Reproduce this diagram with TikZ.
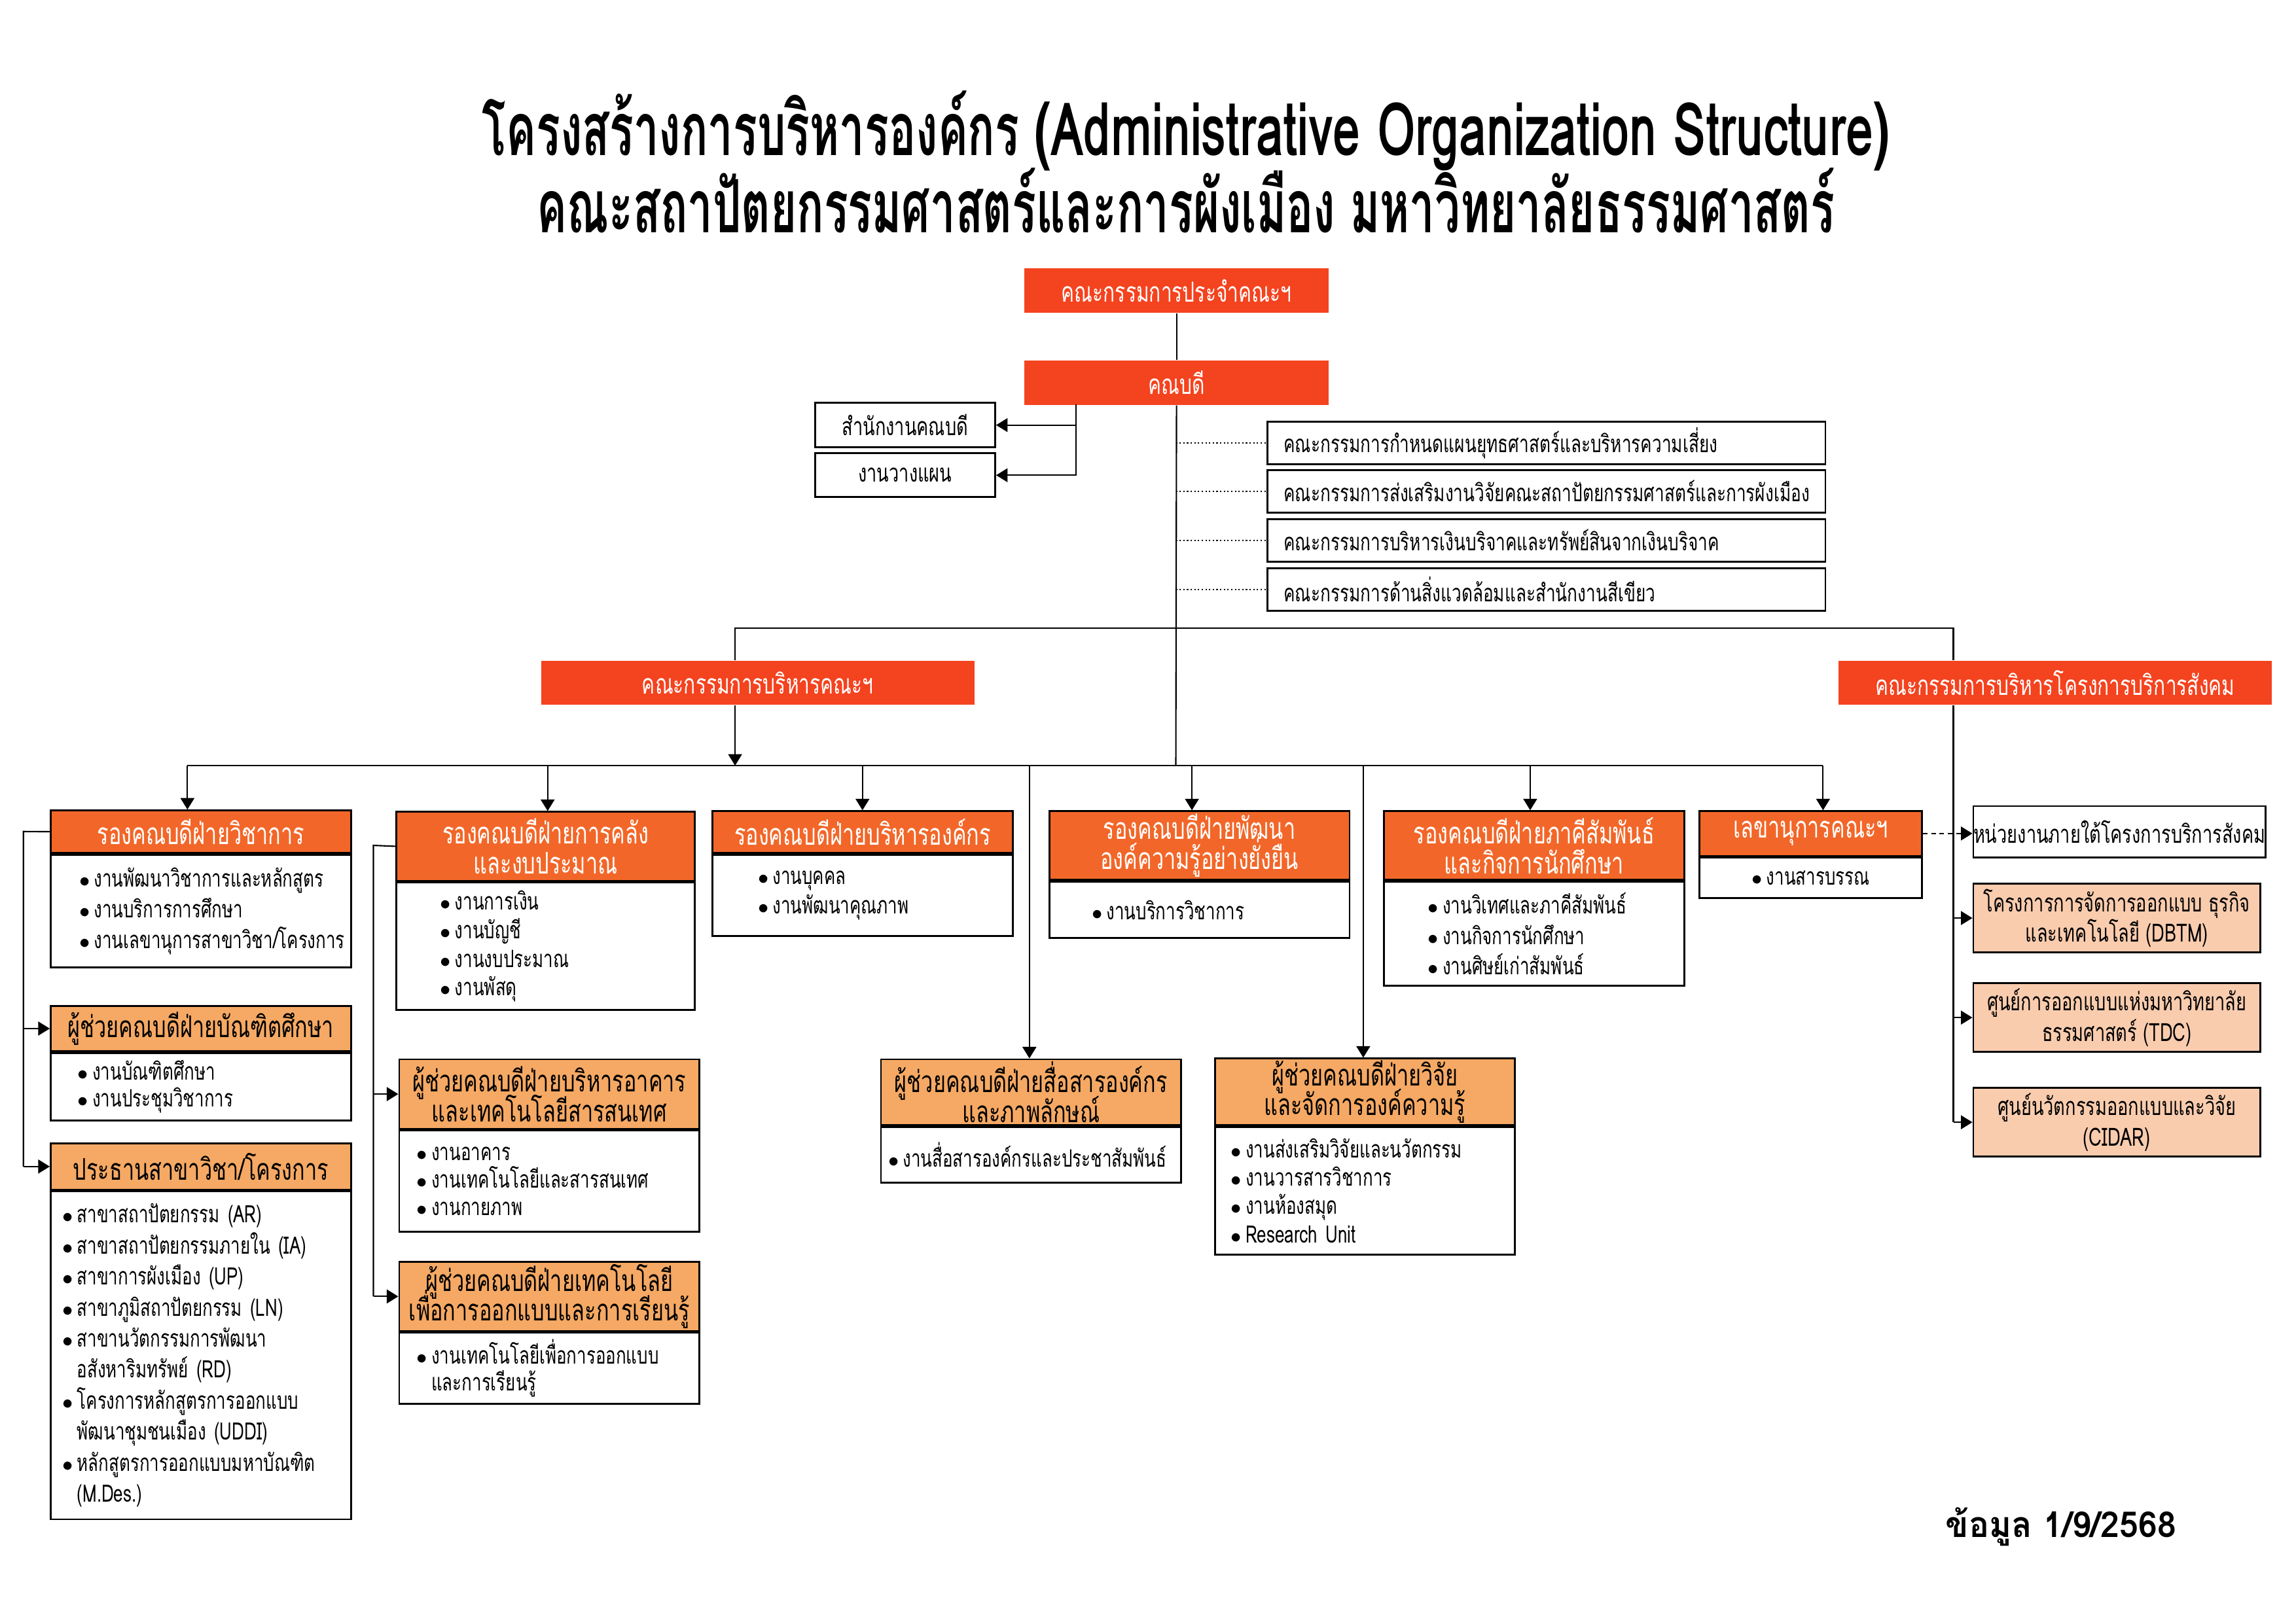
\documentclass[tikz,border=0pt]{standalone}
\usepackage{fontspec}
\newfontfamily\thaifont[Script=Thai,FakeStretch=0.71]{Loma}
\newfontfamily\titlefont[Script=Thai,FakeStretch=0.61]{Loma}
\newfontfamily\titlelatin[Script=Thai,FakeStretch=0.67]{Loma}
\newfontfamily\datefont[Script=Thai,FakeStretch=0.95]{Loma}
\usetikzlibrary{arrows.meta}

\definecolor{topred}{HTML}{F4431F}
\definecolor{vporange}{HTML}{F26729}
\definecolor{asstorange}{HTML}{F5A964}
\definecolor{unitpeach}{HTML}{F9CCAE}

\newdimen\px \px=0.022372cm
\newcommand{\itm}{\makebox[10\px][l]{\fontsize{9}{9}\selectfont$\bullet$}}
\newcommand{\cont}{\hspace*{10\px}}
\newcommand{\tightlines}{\lineskiplimit=-\maxdimen}

\begin{document}
\begin{tikzpicture}[x=0.022372cm, y=-0.022372cm, line width=0.6pt,
  >={Triangle[length=5pt,width=6pt]},
  titletext/.style={anchor=base, font=\titlefont\bfseries\fontsize{32}{36}\selectfont},
  redbox/.style={fill=topred, text=white, inner sep=0pt, align=center, anchor=north west,
    font=\thaifont\fontsize{12}{13}\selectfont},
  linebox/.style={draw, line width=0.8pt, fill=white, inner sep=0pt, align=center, anchor=north west,
    font=\thaifont\fontsize{10.9}{12}\selectfont\tightlines},
  cmbox/.style={linebox, align=left, inner xsep=11\px, text width=359\px, minimum height=29\px,
    font=\thaifont\fontsize{10.5}{12}\selectfont},
  vphead/.style={draw, line width=0.8pt, fill=vporange, text=white, inner sep=0pt, align=center,
    anchor=north west, font=\thaifont\fontsize{13}{13}\selectfont\tightlines},
  asshead/.style={vphead, fill=asstorange, text=black},
  listbox/.style={draw, line width=0.8pt, fill=white, inner ysep=0pt, align=left, anchor=north west,
    font=\thaifont\fontsize{10.4}{#1}\selectfont\tightlines},
  listbox/.default=13,
  unitbox/.style={linebox, fill=unitpeach, minimum width=196\px, minimum height=47\px,
    font=\thaifont\fontsize{10.9}{13.2}\selectfont\tightlines}
]
\useasboundingbox (0,0) rectangle (1568,1109);

% title
\node[titletext] (title1) at (810,106) {โครงสร้างการบริหารองค์กร {\titlelatin(Administrative Organization Structure)}};
\node[titletext] (title2) at (810,159) {คณะสถาปัตยกรรมศาสตร์และการผังเมือง มหาวิทยาลัยธรรมศาสตร์};

% board and dean
\node[redbox, minimum width=208\px, minimum height=30\px] (board) at (699,183) {คณะกรรมการประจำคณะฯ};
\node[redbox, minimum width=208\px, minimum height=30\px] (dean) at (699,246) {คณบดี};
\node[linebox, minimum width=123\px, minimum height=30.5\px] (office) at (556,274.5) {สำนักงานคณบดี};
\node[linebox, minimum width=123\px, minimum height=30\px] (plan) at (556,309) {งานวางแผน};

% committees
\node[cmbox] (cm1) at (865,287.5) {คณะกรรมการกำหนดแผนยุทธศาสตร์และบริหารความเสี่ยง};
\node[cmbox] (cm2) at (865,320.5) {คณะกรรมการส่งเสริมงานวิจัยคณะสถาปัตยกรรมศาสตร์และการผังเมือง};
\node[cmbox] (cm3) at (865,354) {คณะกรรมการบริหารเงินบริจาคและทรัพย์สินจากเงินบริจาค};
\node[cmbox] (cm4) at (865,387.5) {คณะกรรมการด้านสิ่งแวดล้อมและสำนักงานสีเขียว};

\node[redbox, minimum width=296\px, minimum height=30\px] (mgmt) at (369,451) {คณะกรรมการบริหารคณะฯ};
\node[redbox, minimum width=296\px, minimum height=30\px] (svc) at (1255,451) {คณะกรรมการบริหารโครงการบริการสังคม};

% column 1
\node[vphead, minimum width=205\px, minimum height=29\px] (acadH) at (34,553) {รองคณบดีฝ่ายวิชาการ};
\node[listbox=13.3, text width=166\px, inner xsep=19.5\px, minimum height=77\px] (acadB) at (acadH.south west)
  {\itm งานพัฒนาวิชาการและหลักสูตร\\ \itm งานบริการการศึกษา\\ \itm งานเลขานุการสาขาวิชา/โครงการ};
\node[asshead, minimum width=205\px, minimum height=31\px] (gradH) at (34,686.5) {ผู้ช่วยคณบดีฝ่ายบัณฑิตศึกษา};
\node[listbox=11.5, text width=168\px, inner xsep=18.5\px, minimum height=46\px] (gradB) at (gradH.south west)
  {\itm งานบัณฑิตศึกษา\\ \itm งานประชุมวิชาการ};
\node[asshead, minimum width=205\px, minimum height=31.5\px] (chairH) at (34,780.5) {ประธานสาขาวิชา/โครงการ};
\node[listbox=13.5, text width=189\px, inner xsep=8\px, minimum height=224\px] (chairB) at (chairH.south west)
  {\itm สาขาสถาปัตยกรรม (AR)\\ \itm สาขาสถาปัตยกรรมภายใน (IA)\\ \itm สาขาการผังเมือง (UP)\\
   \itm สาขาภูมิสถาปัตยกรรม (LN)\\ \itm สาขานวัตกรรมการพัฒนา\\ \cont อสังหาริมทรัพย์ (RD)\\
   \itm โครงการหลักสูตรการออกแบบ\\ \cont พัฒนาชุมชนเมือง (UDDI)\\
   \itm หลักสูตรการออกแบบมหาบัณฑิต\\ \cont (M.Des.)};

% column 2
\node[vphead, minimum width=204\px, minimum height=47\px] (finH) at (270,554) {รองคณบดีฝ่ายการคลัง\\และงบประมาณ};
\node[listbox=12.5, text width=144\px, inner xsep=30\px, minimum height=87\px] (finB) at (finH.south west)
  {\itm งานการเงิน\\ \itm งานบัญชี\\ \itm งานงบประมาณ\\ \itm งานพัสดุ};
\node[asshead, minimum width=205\px, minimum height=47.5\px] (bldgH) at (272,723) {ผู้ช่วยคณบดีฝ่ายบริหารอาคาร\\และเทคโนโลยีสารสนเทศ};
\node[listbox=12, text width=181\px, inner xsep=12\px, minimum height=69\px] (bldgB) at (bldgH.south west)
  {\itm งานอาคาร\\ \itm งานเทคโนโลยีและสารสนเทศ\\ \itm งานกายภาพ};
\node[asshead, minimum width=205\px, minimum height=47\px] (techH) at (272,861.5) {ผู้ช่วยคณบดีฝ่ายเทคโนโลยี\\เพื่อการออกแบบและการเรียนรู้};
\node[listbox=11.5, text width=181\px, inner xsep=12\px, minimum height=48.5\px] (techB) at (techH.south west)
  {\itm งานเทคโนโลยีเพื่อการออกแบบ\\ \cont และการเรียนรู้};

% column 3
\node[vphead, minimum width=205\px, minimum height=28.5\px] (orgH) at (486,553.5) {รองคณบดีฝ่ายบริหารองค์กร};
\node[listbox=12.7, text width=143\px, inner xsep=31\px, minimum height=55.5\px] (orgB) at (orgH.south west)
  {\itm งานบุคคล\\ \itm งานพัฒนาคุณภาพ};
\node[asshead, minimum width=205\px, minimum height=45\px] (commH) at (601,723) {ผู้ช่วยคณบดีฝ่ายสื่อสารองค์กร\\และภาพลักษณ์};
\node[listbox, text width=195\px, inner xsep=5\px, minimum height=38\px] (commB) at (commH.south west)
  {\itm งานสื่อสารองค์กรและประชาสัมพันธ์};

% column 4
\node[vphead, minimum width=205\px, minimum height=47\px] (sustH) at (716,553.5) {รองคณบดีฝ่ายพัฒนา\\องค์ความรู้อย่างยั่งยืน};
\node[listbox, text width=147\px, inner xsep=29\px, minimum height=38.5\px] (sustB) at (sustH.south west)
  {\itm งานบริการวิชาการ};
\node[asshead, minimum width=205\px, minimum height=45.5\px] (resH) at (829,722.5) {ผู้ช่วยคณบดีฝ่ายวิจัย\\และจัดการองค์ความรู้};
\node[listbox=12.3, text width=183\px, inner xsep=11\px, minimum height=87\px] (resB) at (resH.south west)
  {\itm งานส่งเสริมวิจัยและนวัตกรรม\\ \itm งานวารสารวิชาการ\\ \itm งานห้องสมุด\\ \itm Research Unit};

% column 5 and 6
\node[vphead, minimum width=205\px, minimum height=47\px] (partH) at (944.5,553.5) {รองคณบดีฝ่ายภาคีสัมพันธ์\\และกิจการนักศึกษา};
\node[listbox=13.3, text width=145\px, inner xsep=30\px, minimum height=71\px] (partB) at (partH.south west)
  {\itm งานวิเทศและภาคีสัมพันธ์\\ \itm งานกิจการนักศึกษา\\ \itm งานศิษย์เก่าสัมพันธ์};
\node[vphead, minimum width=152\px, minimum height=30.5\px] (secH) at (1160,553.5) {เลขานุการคณะฯ};
\node[listbox, align=center, inner xsep=0pt, minimum width=152\px, minimum height=27.5\px] (secB) at (secH.south west)
  {\itm งานสารบรรณ};

% social service units
\node[linebox, minimum width=196\px, minimum height=35\px] (unit) at (1347,550) {หน่วยงานภายใต้โครงการบริการสังคม};
\node[unitbox] (dbtm) at (1347,603) {โครงการการจัดการออกแบบ ธุรกิจ\\และเทคโนโลยี (DBTM)};
\node[unitbox] (tdc) at (1347,671) {ศูนย์การออกแบบแห่งมหาวิทยาลัย\\ธรรมศาสตร์ (TDC)};
\node[unitbox] (cidar) at (1347,742.5) {ศูนย์นวัตกรรมออกแบบและวิจัย\\(CIDAR)};

% date
\node[anchor=base west, font=\datefont\bfseries\fontsize{15.5}{18}\selectfont] (date) at (1323,1050) {ข้อมูล 1/9/2568};

% connectors at the top
\coordinate (trunk) at (803,523);
\coordinate (deanL) at (735,276);
\coordinate (jL) at (502,429);
\coordinate (jR) at (1334,429);
\draw (board) -- (dean);
\draw (dean.south) -- (trunk);
\draw[->] (deanL) |- (office.east);
\draw[->] (deanL) |- (plan.east);
\foreach \c in {cm1,cm2,cm3,cm4}
  \draw[densely dotted] (trunk |- \c.west) -- (\c.west);
\draw (jL |- mgmt.north) -- (jL) -- (jR) -- (jR |- svc.north);
\draw[->] (jL |- mgmt.south) -- (jL |- trunk);

% bus to the divisions
\coordinate (busL) at (128,523);
\coordinate (busR) at (1245,523);
\draw (busL) -- (busR);
\foreach \n/\x in {acadH/128, finH/374, orgH/589, sustH/814, partH/1045, secH/1245, commH/703, resH/931} {
  \coordinate (tap\n) at (\x,523);
  \draw[->] (tap\n) -- (tap\n |- \n.north);
}

% side rails
\coordinate (railA) at (16,568);
\draw (acadH.west) -- (railA) -- (railA |- chairH.west);
\draw[->] (railA |- gradH.west) -- (gradH.west);
\draw[->] (railA |- chairH.west) -- (chairH.west);
\coordinate (railB) at (255,577.5);
\draw (finH.west) -- (railB) -- (railB |- techH.west);
\draw[->] (railB |- bldgH.west) -- (bldgH.west);
\draw[->] (railB |- techH.west) -- (techH.west);
\draw (jR |- svc.south) -- (jR |- cidar.west);
\foreach \n in {dbtm,tdc,cidar}
  \draw[->] (jR |- \n.west) -- (\n.west);
\draw[->, dash pattern=on 2pt off 1.6pt] (secH.east) -- (secH.east -| unit.west);
\end{tikzpicture}
\end{document}
